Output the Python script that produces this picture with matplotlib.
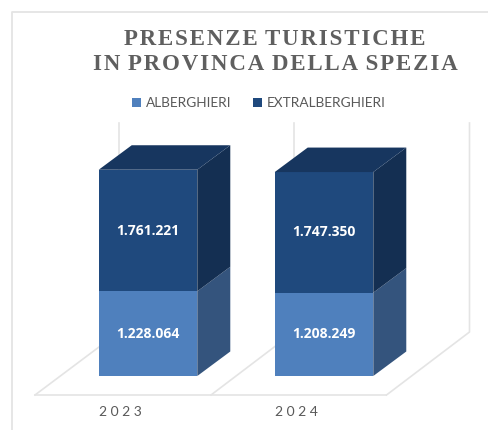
import matplotlib
matplotlib.use('Agg')
import matplotlib.pyplot as plt
from matplotlib.patches import Polygon

years=['2 0 2 3','2 0 2 4']
alberghieri=[1228064,1208249]
extralberghieri=[1761221,1747350]
labels_alb=['1.228.064','1.208.249']
labels_ext=['1.761.221','1.747.350']
title_lines=['PRESENZE TURISTICHE','IN PROVINCA DELLA SPEZIA']

W,H=488,430
#pixel sizes of the picture, used to set up the axes scales
x_unit=176.0
y_unit=14493.0
x0_px=148.0
base_px=376.0
bar_w=0.56
depth_x=33/x_unit
depth_y=24.5*y_unit

fig=plt.figure(figsize=(W/100,H/100),dpi=100,facecolor='white')
ax=fig.add_axes([0,0,1,1])
ax.set_xlim(-x0_px/x_unit,(W-x0_px)/x_unit)
ax.set_ylim(-(H-base_px)*y_unit,base_px*y_unit)
ax.axis('off')

def px(x,y):
	return (x-x0_px)/x_unit,(base_px-y)*y_unit

grid='#e4e4e4'
#outer frame of the chart
ax.plot(*zip(px(12,430),px(12,12),px(488,12)),color=grid,lw=1.3,zorder=1)
#floor and back wall
for xf,xb in [(35,119),(211,294),(386.5,469.5)]:
	ax.plot(*zip(px(xf,395),px(xb,332),px(xb,123)),color=grid,lw=1.2,zorder=1)
ax.plot(*zip(px(35,395),px(386.5,395)),color=grid,lw=1.2,zorder=1)

x=[0,1]
c_alb='#4f80bd'
c_ext='#1f497d'
b1=ax.bar(x,alberghieri,bar_w,color=c_alb,label='ALBERGHIERI',zorder=3)
b2=ax.bar(x,extralberghieri,bar_w,bottom=alberghieri,color=c_ext,label='EXTRALBERGHIERI',zorder=3)

#3d faces
for i in x:
	r=i+bar_w/2
	l=i-bar_w/2
	a=alberghieri[i]
	t=a+extralberghieri[i]
	ax.add_patch(Polygon([(r,0),(r+depth_x,depth_y),(r+depth_x,a+depth_y),(r,a)],color='#34547d',lw=0,zorder=3))
	ax.add_patch(Polygon([(r,a),(r+depth_x,a+depth_y),(r+depth_x,t+depth_y),(r,t)],color='#142f52',lw=0,zorder=3))
	ax.add_patch(Polygon([(l,t),(r,t),(r+depth_x,t+depth_y),(l+depth_x,t+depth_y)],color='#17365f',lw=0,zorder=3))
	ax.text(i,a/2,labels_alb[i],color='white',fontsize=10,fontweight='bold',family='Open Sans',ha='center',va='center',zorder=4)
	ax.text(i,a+extralberghieri[i]/2,labels_ext[i],color='white',fontsize=10,fontweight='bold',family='Open Sans',ha='center',va='center',zorder=4)
	ax.text(i-0.155,px(0,412)[1],years[i],color='#595959',fontsize=10,family='Lato',ha='center',va='center')

#the title is letter spaced in the original, hair spaces between letters
for line,xc,yc in zip(title_lines,[275,275.5],[39,64]):
	spaced='\u200a '.join('\u200a'.join(word) for word in line.split(' '))
	tx,ty=px(xc,yc)
	ax.text(tx,ty,spaced,color='#5f5f5f',fontsize=16.5,fontweight='bold',family='Liberation Serif',ha='center',va='center')

ax.legend(handles=[b1,b2],ncol=2,frameon=False,loc='center',bbox_to_anchor=(259/W,1-103/H),
	prop={'family':'Lato','size':9.8},labelcolor='#595959',handlelength=0.66,handleheight=0.6,handletextpad=0.37,columnspacing=1.6)

plt.savefig('out.png',dpi=100)
